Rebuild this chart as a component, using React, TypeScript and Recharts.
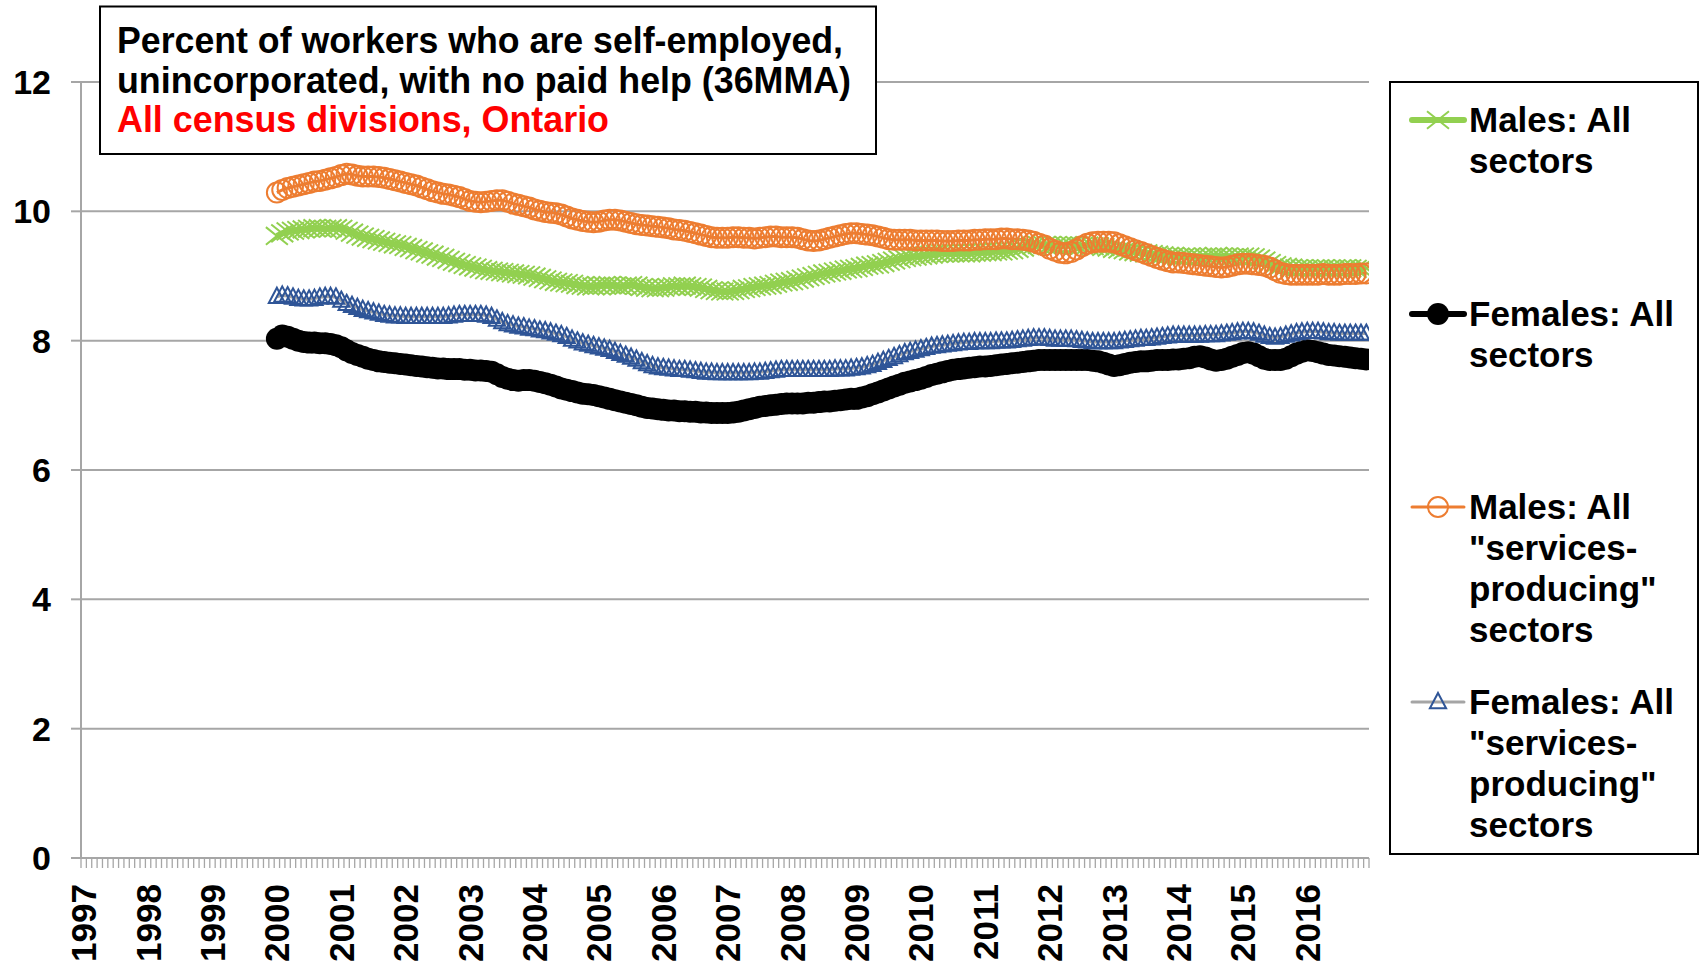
import React from 'react';
import { LineChart, Line, XAxis, YAxis, CartesianGrid } from 'recharts';

const FONT = '"Liberation Sans", Arial, sans-serif';
const GRID = '#A6A6A6';

const YEAR_LABELS = ['1997', '1998', '1999', '2000', '2001', '2002', '2003', '2004', '2005', '2006',
  '2007', '2008', '2009', '2010', '2011', '2012', '2013', '2014', '2015', '2016'];
const FIRST_YEAR = 1997;
const DATA_START_YEAR = 2000;
const Y_TICKS = [0, 2, 4, 6, 8, 10, 12];

const TITLE_LINES = [
  'Percent of workers who are self-employed,',
  'unincorporated, with no paid help (36MMA)',
];
const SUBTITLE = 'All census divisions, Ontario';

// monthly values, Jan 2000 .. Dec 2016
const MALES_ALL = [
  9.62, 9.66, 9.69, 9.70, 9.71, 9.72, 9.73, 9.74, 9.74, 9.73, 9.74, 9.74,
  9.73, 9.70, 9.67, 9.64, 9.61, 9.59, 9.57, 9.55, 9.53, 9.51, 9.49, 9.48,
  9.45, 9.43, 9.40, 9.38, 9.35, 9.33, 9.30, 9.28, 9.25, 9.22, 9.20, 9.17,
  9.15, 9.13, 9.11, 9.09, 9.08, 9.07, 9.06, 9.05, 9.04, 9.03, 9.02, 9.01,
  8.99, 8.97, 8.95, 8.93, 8.91, 8.90, 8.89, 8.88, 8.86, 8.85, 8.84, 8.84,
  8.85, 8.86, 8.86, 8.85, 8.84, 8.85, 8.86, 8.85, 8.83, 8.82, 8.81, 8.81,
  8.82, 8.83, 8.84, 8.84, 8.85, 8.84, 8.83, 8.82, 8.80, 8.78, 8.77, 8.76,
  8.76, 8.77, 8.78, 8.80, 8.81, 8.83, 8.84, 8.85, 8.86, 8.88, 8.90, 8.91,
  8.92, 8.94, 8.96, 8.98, 9.00, 9.02, 9.04, 9.05, 9.07, 9.08, 9.10, 9.11,
  9.12, 9.14, 9.16, 9.17, 9.18, 9.20, 9.22, 9.24, 9.26, 9.28, 9.29, 9.30,
  9.31, 9.32, 9.33, 9.34, 9.35, 9.35, 9.35, 9.35, 9.35, 9.35, 9.36, 9.36,
  9.37, 9.37, 9.38, 9.38, 9.39, 9.40, 9.42, 9.44, 9.46, 9.47, 9.48, 9.48,
  9.48, 9.47, 9.47, 9.48, 9.48, 9.48, 9.47, 9.47, 9.46, 9.46, 9.45, 9.44,
  9.42, 9.41, 9.40, 9.38, 9.37, 9.36, 9.35, 9.34, 9.33, 9.32, 9.31, 9.31,
  9.30, 9.30, 9.30, 9.30, 9.29, 9.30, 9.30, 9.31, 9.30, 9.30, 9.29, 9.30,
  9.30, 9.30, 9.29, 9.27, 9.24, 9.20, 9.17, 9.15, 9.14, 9.13, 9.12, 9.12,
  9.12, 9.11, 9.12, 9.12, 9.11, 9.12, 9.11, 9.12, 9.12, 9.11, 9.12, 9.12,
];

const FEMALES_ALL = [
  8.03, 8.08, 8.06, 8.03, 8.00, 7.98, 7.97, 7.97, 7.96, 7.96, 7.95, 7.93,
  7.90, 7.85, 7.81, 7.78, 7.75, 7.72, 7.70, 7.68, 7.67, 7.66, 7.65, 7.64,
  7.63, 7.62, 7.61, 7.60, 7.59, 7.58, 7.57, 7.57, 7.56, 7.56, 7.56, 7.55,
  7.55, 7.54, 7.54, 7.53, 7.52, 7.48, 7.44, 7.41, 7.39, 7.38, 7.39, 7.39,
  7.38, 7.36, 7.34, 7.32, 7.29, 7.26, 7.24, 7.22, 7.20, 7.18, 7.17, 7.16,
  7.14, 7.12, 7.10, 7.08, 7.06, 7.04, 7.02, 7.00, 6.98, 6.96, 6.95, 6.94,
  6.93, 6.92, 6.92, 6.91, 6.91, 6.90, 6.90, 6.89, 6.89, 6.88, 6.88, 6.88,
  6.88, 6.89, 6.90, 6.92, 6.94, 6.96, 6.98, 6.99, 7.00, 7.01, 7.02, 7.03,
  7.03, 7.03, 7.03, 7.04, 7.04, 7.05, 7.06, 7.06, 7.07, 7.08, 7.09, 7.10,
  7.10, 7.12, 7.14, 7.17, 7.20, 7.23, 7.26, 7.29, 7.32, 7.35, 7.37, 7.39,
  7.41, 7.44, 7.47, 7.49, 7.51, 7.53, 7.55, 7.56, 7.57, 7.58, 7.59, 7.60,
  7.60, 7.61, 7.62, 7.63, 7.64, 7.65, 7.66, 7.67, 7.68, 7.69, 7.70, 7.70,
  7.70, 7.70, 7.70, 7.70, 7.70, 7.70, 7.70, 7.70, 7.69, 7.68, 7.66, 7.63,
  7.61, 7.62, 7.64, 7.66, 7.67, 7.68, 7.68, 7.69, 7.70, 7.70, 7.70, 7.71,
  7.71, 7.72, 7.73, 7.75, 7.76, 7.74, 7.71, 7.69, 7.70, 7.72, 7.75, 7.78,
  7.81, 7.82, 7.80, 7.76, 7.72, 7.70, 7.70, 7.70, 7.72, 7.76, 7.80, 7.83,
  7.85, 7.84, 7.82, 7.80, 7.78, 7.77, 7.76, 7.75, 7.74, 7.73, 7.72, 7.71,
];

const MALES_SERVICES = [
  10.29, 10.33, 10.36, 10.38, 10.40, 10.42, 10.44, 10.46, 10.47, 10.49, 10.51, 10.53,
  10.56, 10.58, 10.57, 10.55, 10.54, 10.54, 10.54, 10.53, 10.52, 10.50, 10.48, 10.46,
  10.44, 10.42, 10.40, 10.37, 10.34, 10.31, 10.29, 10.27, 10.26, 10.24, 10.22, 10.19,
  10.16, 10.15, 10.14, 10.15, 10.16, 10.17, 10.17, 10.15, 10.12, 10.10, 10.08, 10.06,
  10.03, 10.01, 9.99, 9.98, 9.97, 9.95, 9.92, 9.89, 9.87, 9.85, 9.84, 9.83,
  9.84, 9.86, 9.87, 9.87, 9.86, 9.84, 9.82, 9.80, 9.79, 9.78, 9.77, 9.76,
  9.75, 9.74, 9.72, 9.71, 9.70, 9.68, 9.66, 9.64, 9.62, 9.60, 9.59, 9.59,
  9.59, 9.60, 9.60, 9.59, 9.59, 9.58, 9.59, 9.60, 9.61, 9.61, 9.60, 9.60,
  9.60, 9.59, 9.57, 9.55, 9.54, 9.55, 9.57, 9.59, 9.61, 9.63, 9.65, 9.66,
  9.66, 9.65, 9.64, 9.63, 9.61, 9.59, 9.57, 9.56, 9.56, 9.56, 9.56, 9.55,
  9.55, 9.55, 9.55, 9.55, 9.54, 9.54, 9.54, 9.55, 9.55, 9.55, 9.56, 9.56,
  9.57, 9.57, 9.57, 9.58, 9.58, 9.57, 9.57, 9.56, 9.55, 9.53, 9.50, 9.47,
  9.42, 9.39, 9.36, 9.35, 9.37, 9.41, 9.46, 9.50, 9.52, 9.53, 9.53, 9.53,
  9.52, 9.49, 9.46, 9.43, 9.40, 9.37, 9.34, 9.31, 9.28, 9.25, 9.23, 9.21,
  9.21, 9.20, 9.19, 9.18, 9.17, 9.16, 9.15, 9.14, 9.13, 9.14, 9.16, 9.18,
  9.19, 9.19, 9.18, 9.17, 9.16, 9.13, 9.09, 9.05, 9.03, 9.02, 9.02, 9.02,
  9.02, 9.02, 9.02, 9.03, 9.02, 9.02, 9.02, 9.03, 9.03, 9.03, 9.04, 9.04,
];

const FEMALES_SERVICES = [
  8.68, 8.70, 8.69, 8.67, 8.65, 8.64, 8.64, 8.65, 8.67, 8.68, 8.68, 8.67,
  8.62, 8.57, 8.54, 8.51, 8.48, 8.46, 8.44, 8.42, 8.40, 8.39, 8.38, 8.38,
  8.37, 8.37, 8.37, 8.37, 8.37, 8.37, 8.37, 8.37, 8.38, 8.39, 8.40, 8.40,
  8.40, 8.40, 8.40, 8.39, 8.37, 8.33, 8.29, 8.26, 8.24, 8.22, 8.21, 8.19,
  8.18, 8.16, 8.15, 8.13, 8.11, 8.09, 8.06, 8.02, 7.99, 7.96, 7.94, 7.92,
  7.90, 7.88, 7.86, 7.83, 7.80, 7.77, 7.74, 7.71, 7.67, 7.64, 7.61, 7.59,
  7.58, 7.57, 7.56, 7.55, 7.55, 7.54, 7.53, 7.52, 7.51, 7.51, 7.50, 7.50,
  7.50, 7.50, 7.50, 7.50, 7.50, 7.51, 7.51, 7.52, 7.53, 7.54, 7.55, 7.55,
  7.55, 7.55, 7.55, 7.55, 7.55, 7.55, 7.55, 7.55, 7.56, 7.56, 7.56, 7.57,
  7.58, 7.59, 7.61, 7.63, 7.66, 7.69, 7.72, 7.75, 7.78, 7.81, 7.83, 7.85,
  7.87, 7.89, 7.91, 7.92, 7.93, 7.94, 7.95, 7.96, 7.97, 7.97, 7.98, 7.98,
  7.98, 7.98, 7.99, 7.99, 7.99, 8.00, 8.01, 8.02, 8.03, 8.04, 8.04, 8.04,
  8.03, 8.02, 8.02, 8.02, 8.02, 8.01, 8.00, 7.99, 7.98, 7.98, 7.98, 7.98,
  7.98, 7.99, 8.00, 8.01, 8.02, 8.03, 8.03, 8.04, 8.05, 8.06, 8.07, 8.08,
  8.08, 8.08, 8.08, 8.08, 8.08, 8.09, 8.09, 8.09, 8.10, 8.11, 8.12, 8.13,
  8.14, 8.14, 8.13, 8.11, 8.08, 8.06, 8.05, 8.06, 8.08, 8.10, 8.12, 8.13,
  8.14, 8.14, 8.14, 8.13, 8.12, 8.12, 8.11, 8.11, 8.11, 8.11, 8.11, 8.11,
];

const MONTH_COUNT = YEAR_LABELS.length * 12;
const START_INDEX = (DATA_START_YEAR - FIRST_YEAR) * 12;

const data = MALES_ALL.map((v, i) => ({
  t: START_INDEX + i + 0.5,
  malesAll: v,
  femalesAll: FEMALES_ALL[i],
  malesServ: MALES_SERVICES[i],
  femalesServ: FEMALES_SERVICES[i],
}));

const X_TICKS = [
  ...Array.from({ length: MONTH_COUNT + 1 }, (_, i) => i),
  ...YEAR_LABELS.map((_, k) => k * 12 + 0.5),
];

const GREEN = '#92D050';
const ORANGE = '#ED7D31';
const BLUE = '#2F5597';
const GREY_LINE = '#A5A5A5';

const XMark = ({ cx, cy, s = 11 }: any) => (
  <path d={`M${cx - s},${cy - s * 0.8}L${cx + s},${cy + s * 0.8}M${cx - s},${cy + s * 0.8}L${cx + s},${cy - s * 0.8}`}
    stroke={GREEN} strokeWidth={2} fill="none" />
);
const BlackDot = ({ cx, cy, r = 11 }: any) => <circle cx={cx} cy={cy} r={r} fill="#000" />;
const OrangeRing = ({ cx, cy, r = 10 }: any) => (
  <circle cx={cx} cy={cy} r={r} fill="none" stroke={ORANGE} strokeWidth={2} />
);
const BlueTri = ({ cx, cy, s = 9 }: any) => (
  <path d={`M${cx},${cy - s}L${cx + s * 0.9},${cy + s * 0.7}L${cx - s * 0.9},${cy + s * 0.7}Z`}
    fill="none" stroke={BLUE} strokeWidth={2} />
);

const SERIES = [
  { key: 'malesAll', color: GREEN, width: 6, Marker: XMark, label: ['Males: All', 'sectors'] },
  { key: 'femalesAll', color: '#000', width: 8, Marker: BlackDot, label: ['Females: All', 'sectors'] },
  { key: 'malesServ', color: ORANGE, width: 3, Marker: OrangeRing, label: ['Males: All', '"services-', 'producing"', 'sectors'] },
  { key: 'femalesServ', color: GREY_LINE, width: 3, Marker: BlueTri, label: ['Females: All', '"services-', 'producing"', 'sectors'] },
];
const LEGEND_TOPS = [120, 314, 507, 702];

const XTick = (props: any) => {
  const { x, y, payload } = props;
  const v = payload.value as number;
  if (Number.isInteger(v)) {
    return <line x1={x} x2={x} y1={y} y2={y + 10} stroke={GRID} strokeWidth={1.3} />;
  }
  const idx = Math.round((v - 0.5) / 12);
  const ty = y + 26;
  return (
    <text x={x} y={ty} transform={`rotate(-90 ${x} ${ty})`} textAnchor="end" dy="0.36em"
      fontSize={35} fontWeight="bold" fontFamily={FONT} fill="#000">
      {YEAR_LABELS[idx]}
    </text>
  );
};

export default function App() {
  return (
    <div style={{ position: 'absolute', left: 0, top: 0, width: 1700, height: 961, background: '#fff', overflow: 'hidden' }}>
      <LineChart width={1700} height={961} data={data} margin={{ top: 82, right: 331, bottom: 3, left: 0 }}>
        <CartesianGrid horizontal vertical={false} stroke={GRID} strokeWidth={2} />
        <XAxis type="number" dataKey="t" domain={[0, MONTH_COUNT]} ticks={X_TICKS} interval={0}
          tick={(p: any) => <XTick {...p} />} tickLine={false} tickSize={0} tickMargin={0}
          axisLine={{ stroke: GRID, strokeWidth: 2 }} height={100} allowDataOverflow />
        <YAxis type="number" domain={[0, 12]} ticks={Y_TICKS} interval={0} width={81}
          tickSize={10} tickMargin={20} tickLine={{ stroke: GRID, strokeWidth: 2 }}
          axisLine={{ stroke: GRID, strokeWidth: 2 }}
          tick={{ fontSize: 34, fontWeight: 'bold', fill: '#000', fontFamily: FONT }} />
        {SERIES.map((s) => (
          <Line key={s.key} type="linear" dataKey={s.key} stroke={s.color} strokeWidth={s.width}
            isAnimationActive={false} activeDot={false}
            dot={(p: any) => <s.Marker key={`${s.key}-${p.index}`} cx={p.cx} cy={p.cy} />} />
        ))}
      </LineChart>
      <svg width={1700} height={961} style={{ position: 'absolute', left: 0, top: 0, pointerEvents: 'none' }}>
        <rect x={100} y={6.5} width={776} height={147.5} fill="#fff" stroke="#000" strokeWidth={2} />
        {TITLE_LINES.map((t, i) => (
          <text key={t} x={117} y={53 + i * 39.5} fontSize={36} fontWeight="bold" fontFamily={FONT}
            fill="#000" textLength={i === 0 ? 726 : 734} lengthAdjust="spacingAndGlyphs">{t}</text>
        ))}
        <text x={117} y={132} fontSize={36} fontWeight="bold" fontFamily={FONT} fill="#FF0000"
          textLength={492} lengthAdjust="spacingAndGlyphs">{SUBTITLE}</text>

        <rect x={1390} y={82} width={308} height={772} fill="#fff" stroke="#000" strokeWidth={2} />
        {SERIES.map((s, i) => {
          const cy = LEGEND_TOPS[i];
          return (
            <g key={s.key}>
              <line x1={1412} x2={1464} y1={cy} y2={cy} stroke={s.color} strokeWidth={Math.min(s.width, 6)} strokeLinecap="round" />
              <s.Marker cx={1438} cy={cy} />
              {s.label.map((l, j) => (
                <text key={j} x={1469} y={cy + 12 + j * 41} fontSize={35} fontWeight="bold"
                  fontFamily={FONT} fill="#000">{l}</text>
              ))}
            </g>
          );
        })}
      </svg>
    </div>
  );
}
